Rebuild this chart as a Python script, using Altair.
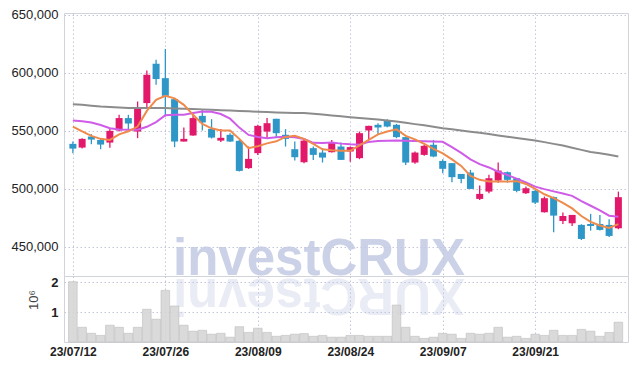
import altair as alt
import pandas as pd

dates = [
    "23/07/12", "23/07/13", "23/07/14", "23/07/17", "23/07/18", "23/07/19", "23/07/20", "23/07/21",
    "23/07/24", "23/07/25", "23/07/26", "23/07/27", "23/07/28", "23/07/31",
    "23/08/01", "23/08/02", "23/08/03", "23/08/04", "23/08/07", "23/08/08", "23/08/09", "23/08/10",
    "23/08/11", "23/08/14", "23/08/16", "23/08/17", "23/08/18", "23/08/21", "23/08/22", "23/08/23",
    "23/08/24", "23/08/25", "23/08/28", "23/08/29", "23/08/30", "23/08/31",
    "23/09/01", "23/09/04", "23/09/05", "23/09/06", "23/09/07", "23/09/08", "23/09/11", "23/09/12",
    "23/09/13", "23/09/14", "23/09/15", "23/09/18", "23/09/19", "23/09/20", "23/09/21", "23/09/22",
    "23/09/25", "23/09/26", "23/09/27",
    "23/10/04", "23/10/05", "23/10/06", "23/10/10", "23/10/11",
]

open_ = [538800, 535600, 545100, 542200, 539900, 550300, 561000, 549400, 573900, 607800,
         595400, 577300, 540800, 546000, 562900, 551700, 541600, 546600, 541400, 517900,
         530800, 549400, 560400, 546600, 534200, 523000, 535100, 531300, 531600, 536500,
         532200, 526500, 550300, 555200, 558600, 555200, 544600, 522700, 529300, 538000,
         524100, 522200, 512900, 514100, 491400, 497700, 507200, 514400, 509200, 496300,
         498300, 479900, 492900, 472400, 470400, 469000, 469800, 469800, 469000, 466100]

close = [534700, 543100, 542500, 538200, 550000, 561000, 556300, 569600, 598300, 594600,
         580200, 540800, 543100, 561000, 557200, 544200, 544000, 540800, 515500, 525900,
         554300, 556600, 548000, 543100, 527300, 541600, 529300, 527000, 540300, 525000,
         536000, 548000, 554300, 552900, 553700, 544600, 522700, 531300, 537100, 527900,
         517300, 510100, 508600, 500000, 495700, 509200, 515800, 507800, 498300, 500600,
         488200, 492000, 477000, 476700, 477600, 456900, 468100, 464700, 459500, 492900]

high = [540800, 543700, 547200, 543400, 552300, 563800, 563800, 575300, 602000, 611200,
        620400, 577300, 552900, 563800, 568700, 560100, 551500, 548000, 542200, 536500,
        555200, 561000, 560400, 551500, 540800, 542800, 536500, 535100, 542200, 539900,
        536500, 549400, 554300, 556600, 560100, 556000, 544600, 532200, 538000, 542200,
        525600, 522200, 512900, 516400, 502900, 512100, 522700, 515000, 509200, 502000,
        499100, 493400, 493400, 479600, 477600, 469600, 478500, 477600, 473900, 497700]

low = [530800, 534700, 538500, 534200, 535400, 549400, 551500, 543700, 569600, 589700,
       562300, 536000, 540800, 545700, 550300, 543400, 540500, 540500, 515000, 517300,
       529300, 543700, 544600, 536500, 524400, 522200, 525000, 522700, 531300, 525000,
       523500, 525600, 542800, 547200, 553200, 543700, 520700, 521600, 528500, 527300,
       513500, 505800, 504900, 500000, 490500, 496300, 505400, 505400, 497200, 495700,
       487100, 479600, 462700, 469800, 468100, 456000, 464100, 464100, 458600, 465300]

volume = [2010000, 490000, 290000, 220000, 560000, 490000, 290000, 490000, 1090000, 760000,
          1720000, 1200000, 560000, 360000, 390000, 260000, 290000, 160000, 510000, 320000,
          460000, 320000, 190000, 220000, 260000, 280000, 190000, 220000, 160000, 160000,
          220000, 220000, 190000, 190000, 190000, 1230000, 490000, 190000, 120000, 160000,
          290000, 260000, 120000, 290000, 260000, 290000, 490000, 160000, 190000, 120000,
          260000, 220000, 390000, 220000, 220000, 420000, 360000, 190000, 320000, 660000]

ma5 = [553700, 549600, 545700, 543100, 542200, 547000, 549600, 553700, 567200, 576700,
       580200, 578000, 572400, 563800, 556000, 552200, 550400, 550300, 543100, 535100,
       536800, 539200, 541000, 544800, 545700, 543100, 538800, 534100, 533200, 532800,
       532800, 537500, 542200, 547000, 549400, 551300, 545700, 542700, 538800, 534500,
       530600, 525400, 519800, 511200, 507800, 506300, 506300, 506300, 506700, 504300,
       500000, 495400, 492000, 487900, 483200, 476700, 471600, 468500, 466400, 469700]

ma20 = [558900, 558200, 557200, 555000, 552300, 551200, 550900, 550900, 553500, 557500,
        563500, 563800, 563800, 565300, 566600, 566400, 564500, 560500, 552800, 546500,
        544800, 543700, 544500, 545000, 544500, 543000, 539700, 539600, 539900, 539000,
        538400, 538000, 540500, 541200, 541500, 541600, 541500, 541200, 541000, 540900,
        540600, 536000, 531000, 525500, 521300, 518500, 514800, 512000, 508800, 505500,
        502000, 499800, 497900, 496000, 494000, 489500, 485500, 481500, 476900, 476100]

ma60 = [573000, 572400, 571600, 570900, 570500, 570100, 569700, 569600, 569600, 569600,
        569600, 569300, 569000, 568800, 568500, 568200, 567800, 567500, 567100, 566800,
        566500, 566200, 565900, 565600, 565400, 565300, 564700, 564000, 563300, 562600,
        561800, 561100, 560400, 559700, 558900, 558000, 556900, 555800, 554800, 553600,
        552300, 551300, 550300, 549300, 548300, 547200, 546000, 544900, 543800, 542700,
        541600, 540300, 538800, 537300, 535500, 533600, 531800, 530800, 529500, 528000]

tick_idx = [0, 10, 20, 30, 40, 50]
price_ticks = [450000, 500000, 550000, 600000, 650000]
vol_ticks = [1000000, 2000000]

UP = "#e2196a"
DOWN = "#2e97c8"

df = pd.DataFrame({
    "i": list(range(len(dates))),
    "date": dates,
    "open": open_, "close": close, "high": high, "low": low,
    "vol": volume, "ma5": ma5, "ma20": ma20, "ma60": ma60,
})
df["dir"] = ["up" if c >= o else "down" for o, c in zip(open_, close)]

W = 564
H1 = 263
H2 = 66
X_DOMAIN = [-0.42, 59.5]

grid = dict(gridColor="#c3c7db", gridDash=[1.5, 2.5], gridWidth=1)
label_expr = "[" + ",".join("'%s'" % dates[k] for k in tick_idx) + "][round(datum.value / 10)]"

x_top = alt.X("i:Q", scale=alt.Scale(domain=X_DOMAIN, nice=False, zero=False),
              axis=alt.Axis(values=tick_idx, labels=False, ticks=False, domain=False,
                            title=None, grid=True, minExtent=0, maxExtent=0, **grid))
x_bot = alt.X("i:Q", scale=alt.Scale(domain=X_DOMAIN, nice=False, zero=False),
              axis=alt.Axis(values=tick_idx, labelExpr=label_expr, ticks=False, domain=False,
                            title=None, grid=True, labelPadding=4, labelFontSize=12,
                            labelFontWeight="bold", labelColor="#222", **grid))

yscale = alt.Scale(domain=[425000, 651500], nice=False, zero=False)
yaxis = alt.Axis(values=price_ticks, labelExpr="format(datum.value, ',')", ticks=False,
                 domain=False, title=None, grid=True, labelPadding=6, labelFontSize=13,
                 labelColor="#222", minExtent=55, maxExtent=55, **grid)

color = alt.Color("dir:N", scale=alt.Scale(domain=["up", "down"], range=[UP, DOWN]), legend=None)

base = alt.Chart(df)

watermark = alt.Chart(pd.DataFrame({"t": ["investCRUX"]})).mark_text(
    font="Liberation Sans", fontWeight="bold", fontSize=51, color="#c3c9e3",
    align="center", baseline="alphabetic", opacity=0.85
).encode(x=alt.value(255), y=alt.value(262), text="t:N")

wicks = base.mark_rule(strokeWidth=1.3).encode(
    x=x_top, y=alt.Y("low:Q", scale=yscale, axis=yaxis), y2="high:Q", color=color)
bodies = base.mark_bar(size=7).encode(
    x=x_top, y=alt.Y("open:Q", scale=yscale, axis=yaxis), y2="close:Q", color=color)

line60 = base.mark_line(color="#8c8c8c", strokeWidth=2).encode(
    x=x_top, y=alt.Y("ma60:Q", scale=yscale, axis=yaxis))
line20 = base.mark_line(color="#cf5ce8", strokeWidth=2).encode(
    x=x_top, y=alt.Y("ma20:Q", scale=yscale, axis=yaxis))
line5 = base.mark_line(color="#ef8a4c", strokeWidth=2).encode(
    x=x_top, y=alt.Y("ma5:Q", scale=yscale, axis=yaxis))

price = alt.layer(watermark, wicks, bodies, line60, line20, line5).properties(width=W, height=H1)

reflection = alt.Chart(pd.DataFrame({"t": ["XURCtsevni"]})).mark_text(
    font="Liberation Sans", fontWeight="bold", fontSize=51, color="#c3c9e3",
    align="center", baseline="alphabetic", angle=180, opacity=0.35
).encode(x=alt.value(255), y=alt.value(3), text="t:N")

vbars = base.mark_bar(size=8.6, color="#d7d7d7", stroke="#b9b9b9", strokeWidth=0.6, opacity=0.92).encode(
    x=x_bot,
    y=alt.Y("vol:Q", scale=alt.Scale(domain=[0, 2200000], nice=False),
            axis=alt.Axis(values=vol_ticks, labelExpr="datum.value / 1000000", ticks=False,
                          domain=False, title=None, grid=True, labelPadding=6, labelFontSize=13,
                          labelFontWeight="bold", labelColor="#222", minExtent=55, maxExtent=55,
                          **grid)))

unit = alt.Chart(pd.DataFrame({"t": ["10⁶"]})).mark_text(
    font="Liberation Sans", fontSize=13, color="#444", angle=270, align="center", baseline="middle"
).encode(x=alt.value(-30), y=alt.value(24), text="t:N")

vol = alt.layer(reflection, vbars, unit).properties(width=W, height=H2)

chart = alt.vconcat(price, vol, spacing=0, bounds="flush").properties(
    padding={"left": 0, "top": 0, "right": 0, "bottom": 0}
).configure_view(stroke="#d2d4dc").configure_axis(labelFont="Liberation Sans")

chart.save("out.html", embed_options={"renderer": "svg", "actions": False})
